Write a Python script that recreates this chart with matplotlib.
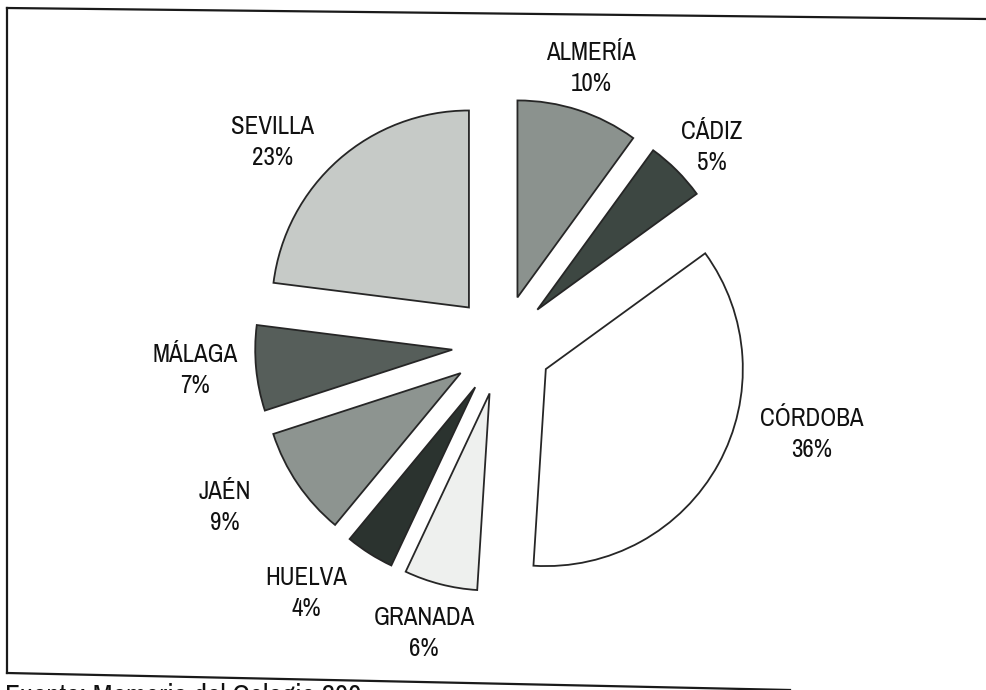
import matplotlib
matplotlib.use('Agg')
import matplotlib.pyplot as plt
from matplotlib.lines import Line2D
from matplotlib import font_manager as fm

provincias = ['ALMERÍA', 'CÁDIZ', 'CÓRDOBA', 'GRANADA', 'HUELVA', 'JAÉN', 'MÁLAGA', 'SEVILLA']
porcentajes = [10, 5, 36, 6, 4, 9, 7, 23]
colores = ['#8b928e', '#3d4742', '#ffffff', '#eef0ee', '#2b332f', '#8d9490', '#565e5a', '#c6cac7']

# narrow sans if one is installed, otherwise Liberation Sans
narrow = [f.name for f in fm.fontManager.ttflist if 'Narrow' in f.name]
if narrow:
    fuente = dict(family=narrow[0])
elif 'Condensed' in fm.findfont(fm.FontProperties(family='DejaVu Sans', stretch='condensed')):
    fuente = dict(family='DejaVu Sans', stretch='condensed')
else:
    fuente = dict(family='Liberation Sans')

W, H = 986, 690
fig = plt.figure(figsize=(W / 100, H / 100), dpi=100)
ax = fig.add_axes([0, 0, 1, 1])

# pie center and radius in pixels, then scale axes so 1 unit = radius
cx, cy, r = 502, 345, 197
ax.pie(porcentajes, colors=colores, startangle=90, counterclock=False,
       explode=[50 / r] * len(porcentajes),
       wedgeprops={'edgecolor': '#262626', 'linewidth': 1.3})
ax.set_xlim(-cx / r, (W - cx) / r)
ax.set_ylim(-(H - cy) / r, cy / r)
ax.set_aspect('equal')
ax.axis('off')

# label centres (pixels, from top-left)
pos_etiquetas = [(591, 68), (712, 147), (812, 434), (424, 633),
                 (306, 593), (225, 507), (195, 370), (273, 142)]
for nombre, p, (x, y) in zip(provincias, porcentajes, pos_etiquetas):
    fig.text(x / W, 1 - y / H, '%s\n%d%%' % (nombre, p), ha='center', va='center',
             fontsize=18, linespacing=1.4, color='#111111', **fuente)

# scanned frame
def linea(x0, y0, x1, y1):
    fig.add_artist(Line2D([x0 / W, x1 / W], [1 - y0 / H, 1 - y1 / H],
                          transform=fig.transFigure, color='#1a1a1a', linewidth=1.6))

linea(7, 8, 986, 19)
linea(7, 8, 7, 673)
linea(7, 673, 790, 690)

fig.text(5 / W, 1 - 683 / H, 'Fuente: Memoria del Colegio 200', ha='left', va='top',
         fontsize=21, color='#111111', **fuente)

fig.savefig('out.png', dpi=100, facecolor='white')
